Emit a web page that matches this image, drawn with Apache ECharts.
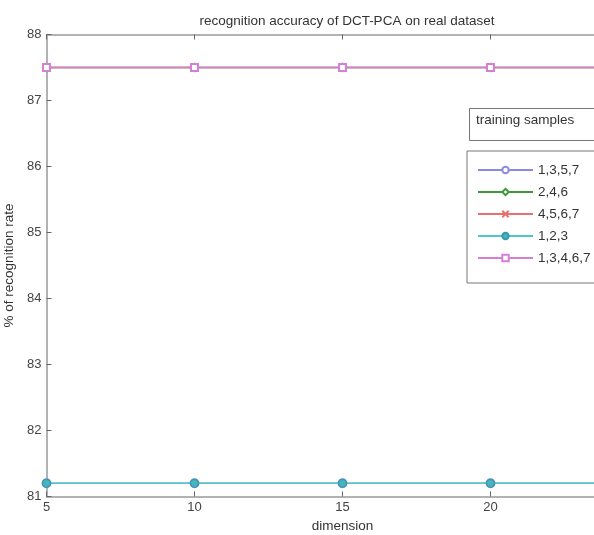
<!DOCTYPE html>
<html>
<head>
<meta charset="utf-8">
<script src="https://cdn.jsdelivr.net/npm/echarts@6/dist/echarts.min.js"></script>
<style>html,body{margin:0;padding:0;background:#fff}#c{width:594px;height:535px}</style>
</head>
<body>
<div id="c"></div>
<script>
const dimensions = [5, 10, 15, 20, 25];
const seriesNames = ['1,3,5,7', '2,4,6', '4,5,6,7', '1,2,3', '1,3,4,6,7'];
const s1357 = [81.2, 81.2, 81.2, 81.2, 81.2];
const s246 = [87.5, 87.5, 87.5, 87.5, 87.5];
const s4567 = [87.5, 87.5, 87.5, 87.5, 87.5];
const s123 = [81.2, 81.2, 81.2, 81.2, 81.2];
const s13467 = [87.5, 87.5, 87.5, 87.5, 87.5];
const seriesValues = [s1357, s246, s4567, s123, s13467];

const colors = ['#8a8ae0', '#3a9a3a', '#e87070', '#4ec9cb', '#d67fd8'];
const symbols = [
  'emptyCircle',
  'emptyDiamond',
  'path://M0,0 L10,10 M10,0 L0,10',
  'circle',
  'emptyRect'
];
const symSizes = [8, 7, 6, 8, 7];

const font = '"Liberation Sans", Arial, sans-serif';
const chart = echarts.init(document.getElementById('c'));
const series = seriesNames.map((n, i) => ({
  name: n,
  type: 'line',
  data: dimensions.map((d, j) => [d, seriesValues[i][j]]),
  symbol: symbols[i],
  symbolSize: symSizes[i],
  showAllSymbol: true,
  clip: true,
  lineStyle: { color: colors[i], width: 1.5 },
  itemStyle: { color: i === 3 ? '#45b3c0' : colors[i], borderColor: i === 3 ? '#3a9aa8' : colors[i], borderWidth: 1.2 },
  emphasis: { disabled: true },
  animation: false
}));

chart.setOption({
  animation: false,
  backgroundColor: '#fff',
  textStyle: { fontFamily: font },
  title: {
    text: 'recognition accuracy of DCT-PCA on real dataset',
    left: 342, top: 9, textAlign: 'center',
    textStyle: { fontSize: 13.5, fontWeight: 'normal', color: '#333', fontFamily: font }
  },
  grid: { left: 46.5, top: 34.5, width: 592, height: 462, outerBoundsMode: 'none', containLabel: false },
  xAxis: [{
    type: 'value', min: 5, max: 25, interval: 5, position: 'bottom',
    axisLine: { lineStyle: { color: '#999', width: 1.5 } },
    axisTick: { inside: true, length: 5, lineStyle: { color: '#666' } },
    axisLabel: { color: '#444', fontSize: 13, margin: 4, fontFamily: font },
    splitLine: { show: false },
    name: 'dimension', nameLocation: 'middle', nameGap: 23,
    nameTextStyle: { color: '#333', fontSize: 13.5, fontFamily: font }
  }, {
    type: 'value', min: 5, max: 25, interval: 5, position: 'top',
    axisLine: { lineStyle: { color: '#999', width: 1.5 } },
    axisTick: { inside: true, length: 5, lineStyle: { color: '#666' } },
    axisLabel: { show: false },
    splitLine: { show: false }
  }],
  yAxis: {
    type: 'value', min: 81, max: 88, interval: 1,
    axisLine: { show: true, lineStyle: { color: '#999', width: 1.5 } },
    axisTick: { show: true, inside: true, length: 5, lineStyle: { color: '#666' } },
    axisLabel: { color: '#444', fontSize: 13, margin: 5, fontFamily: font },
    splitLine: { show: false },
    name: '% of recognition rate', nameLocation: 'middle', nameGap: 13,
    nameTextStyle: { color: '#333', fontSize: 13.5, fontFamily: font }
  },
  legend: {
    orient: 'vertical', left: 467, top: 151,
    data: seriesNames,
    itemWidth: 55, itemHeight: 8, itemGap: 8,
    padding: [12, 60, 18, 10],
    borderColor: '#777', borderWidth: 1, borderRadius: 0,
    backgroundColor: '#fff',
    textStyle: { color: '#333', fontSize: 13.5, fontFamily: font },
    selectedMode: false
  },
  graphic: [
    { type: 'rect', left: 469, top: 108, shape: { width: 140, height: 32 },
      style: { fill: '#fff', stroke: '#777', lineWidth: 1 } },
    { type: 'text', left: 476, top: 113,
      style: { text: 'training samples', fill: '#333', font: '13.5px ' + font } }
  ],
  series: series
});
</script>
</body>
</html>
